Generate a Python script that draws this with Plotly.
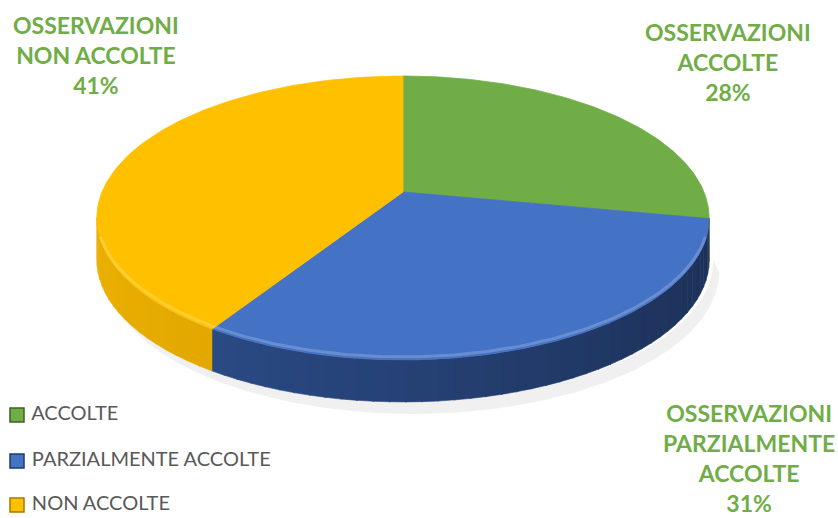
import numpy as np
import plotly.graph_objects as go

# ---- data ----
categories = ["ACCOLTE", "PARZIALMENTE ACCOLTE", "NON ACCOLTE"]
label_names = ["OSSERVAZIONI<br>ACCOLTE", "OSSERVAZIONI<br>PARZIALMENTE<br>ACCOLTE", "OSSERVAZIONI<br>NON ACCOLTE"]
values = [28, 31, 41]

# ---- style ----
top_colors = ["#70AD47", "#4472C4", "#FFC000"]
wall_dark = ["#3F6A28", "#1D3158", "#C98F00"]
wall_light = ["#5A8A3A", "#2F5292", "#EBB000"]
legend_line = ["#3B6324", "#1F3A6E", "#A87A00"]
label_color = "#70AD47"

W, H = 838, 518
CX, CY = 403, 192        # apex of the pie on screen
A, B, C = 137.2, 0.183, 301.0   # perspective projection parameters
DEPTH = 42


def proj(phi):
    u, v = np.sin(phi), np.cos(phi)
    den = 1 + B * v
    return CX + C * u / den, CY - A * v / den


def hex2rgb(h):
    return np.array([int(h[j:j + 2], 16) for j in (1, 3, 5)])


fig = go.Figure()

total = float(sum(values))
bounds = np.concatenate([[0], np.cumsum(values)]) / total * 2 * np.pi
phiR = np.arccos(-B)
phiL = 2 * np.pi - phiR

# shadow
ph = np.linspace(phiR, phiL, 120)
sx, sy = proj(ph)
shx = np.concatenate([sx + 4, (sx + 10)[::-1]])
shy = np.concatenate([sy + DEPTH, (sy + DEPTH + 12)[::-1]])
fig.add_trace(go.Scatter(x=shx, y=shy, fill="toself", mode="lines", line=dict(width=0),
                         fillcolor="rgba(0,0,0,0.06)", hoverinfo="skip", showlegend=False))

# walls (thin strips for shading)
for i in range(len(values)):
    a, b = max(bounds[i], phiR), min(bounds[i + 1], phiL)
    if b <= a:
        continue
    n = max(2, int(np.degrees(b - a) / 2.5))
    edges = np.linspace(a, b, n + 1)
    for k in range(n):
        p0, p1 = edges[k], edges[k + 1] + 0.004
        pp = np.linspace(p0, p1, 4)
        x, y = proj(pp)
        xs = np.concatenate([x, x[::-1]])
        ys = np.concatenate([y, (y + DEPTH)[::-1]])
        t = (np.sin((p0 + p1) / 2) + 1) / 2  # 1 at right, 0 at left
        c = (hex2rgb(wall_light[i]) * (1 - t) + hex2rgb(wall_dark[i]) * t).astype(int)
        col = "rgb(%d,%d,%d)" % tuple(c)
        fig.add_trace(go.Scatter(x=xs, y=ys, fill="toself", mode="lines",
                                 line=dict(width=0.6, color=col), fillcolor=col,
                                 hoverinfo="skip", showlegend=False))

# top faces
for i in range(len(values)):
    pp = np.linspace(bounds[i], bounds[i + 1], 150)
    x, y = proj(pp)
    xs = np.concatenate([[CX], x, [CX]])
    ys = np.concatenate([[CY], y, [CY]])
    fig.add_trace(go.Scatter(x=xs, y=ys, fill="toself", mode="lines",
                             line=dict(width=0.8, color=top_colors[i]), fillcolor=top_colors[i],
                             hoverinfo="skip", showlegend=False))

# bevel highlight along the front rim
ph = np.linspace(phiR + 0.15, phiL - 0.15, 150)
hx, hy = proj(ph)
fig.add_trace(go.Scatter(x=hx, y=hy - 3, mode="lines", line=dict(width=3, color="rgba(255,255,255,0.2)"),
                         hoverinfo="skip", showlegend=False))

# legend (markers with text beside them)
legend_y = [415, 461, 505]
for i, cat in enumerate(categories):
    fig.add_trace(go.Scatter(x=[17], y=[legend_y[i]], mode="markers+text", name=cat,
                             text=[" " + cat], textposition="middle right",
                             textfont=dict(family="Lato", size=20, color="#595959"),
                             marker=dict(symbol="square", size=14, color=top_colors[i],
                                         line=dict(width=1.5, color=legend_line[i])),
                             hoverinfo="skip", showlegend=False))

# data labels
label_pos = [(728, 62), (749, 458), (96, 55)]
for i in range(len(values)):
    pct = round(values[i] / total * 100)
    fig.add_annotation(x=label_pos[i][0], y=label_pos[i][1], xref="x", yref="y",
                       text="<b>%s<br>%d%%</b>" % (label_names[i], pct), showarrow=False,
                       font=dict(family="Lato", size=23, color=label_color),
                       align="center", xanchor="center", yanchor="middle")

fig.update_layout(
    width=W, height=H, margin=dict(l=0, r=0, t=0, b=0),
    paper_bgcolor="white", plot_bgcolor="white",
    xaxis=dict(range=[0, W], visible=False, fixedrange=True),
    yaxis=dict(range=[H, 0], visible=False, fixedrange=True),
    showlegend=False,
)

fig.write_html("out.html", config={"displayModeBar": False},
               post_script="document.body.style.margin='0';")
